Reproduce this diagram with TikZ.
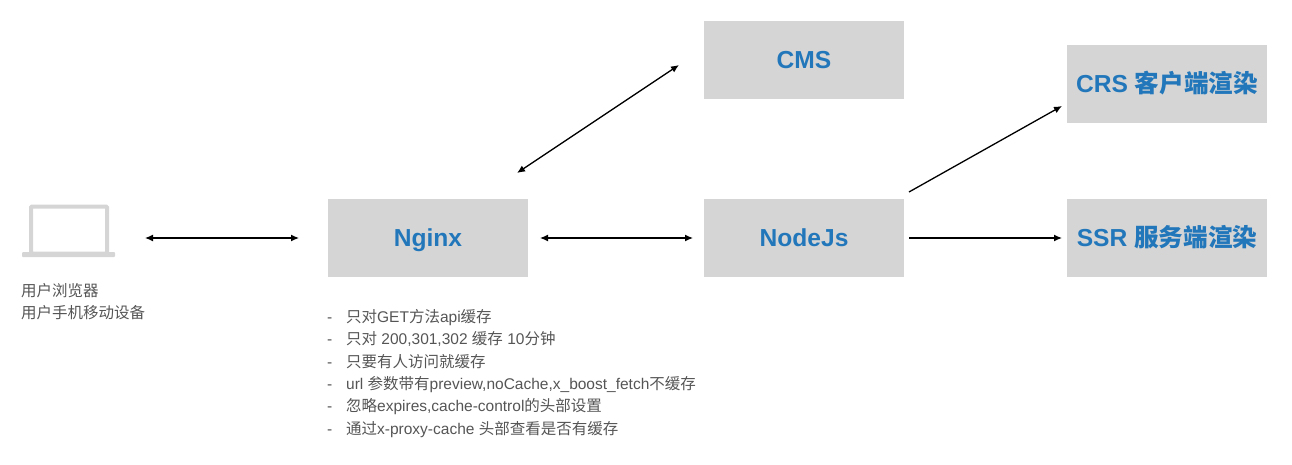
\documentclass[tikz,border=0pt]{standalone}
\usepackage{fontspec}
\usetikzlibrary{arrows.meta}
\setmainfont{Liberation Sans}
\newfontfamily\cjk{Noto Sans CJK SC}
\newcommand{\zh}[1]{{\cjk #1}}
\definecolor{boxgray}{HTML}{D5D5D5}
\definecolor{titleblue}{HTML}{2277BB}
\definecolor{notegray}{HTML}{555555}
\begin{document}
\begin{tikzpicture}[x=1pt,y=-1pt]
\tikzset{ >={Latex[length=8pt,width=7pt]}, inner sep=0pt, outer sep=0pt,
  server/.style={fill=boxgray, minimum width=200pt, minimum height=78pt,
    text=titleblue, text height=17pt, text depth=-1pt,
    font=\fontsize{24.6}{30}\selectfont\bfseries},
  link/.style={<->, line width=1.3pt},
  feed/.style={->, line width=1.3pt},
  note/.style={text=notegray, align=left, anchor=north west,
    font=\fontsize{15.5}{22.3}\selectfont},
}
\useasboundingbox (0,0) rectangle (1292,465);

\node [server] (CMS)    at (804,60)   {CMS};
\node [server] (Nginx)  at (428,238)  {Nginx};
\node [server] (NodeJs) at (804,238)  {NodeJs};
\node [server] (CRS)    at (1167,84)  {CRS \zh{客户端渲染}};
\node [server] (SSR)    at (1167,238) {SSR \zh{服务端渲染}};

% laptop icon
\node [draw=boxgray, line width=4pt, rounded corners=1pt, minimum width=76pt, minimum height=47pt] (Screen) at (69,230) {};
\node [fill=boxgray, rounded corners=1pt, minimum width=93pt, minimum height=5pt] (Base) at (68.5,254.5) {};

\coordinate (ClientEnd) at (145,238);
\coordinate (NginxTop)  at (517,173);
\coordinate (CmsEnd)    at (679,65);
\coordinate (NodeTop)   at (909,192);
\coordinate (CrsEnd)    at (1062,106);

\draw [link] (ClientEnd) -- ([xshift=-29pt]Nginx.west);
\draw [link] ([xshift=12pt]Nginx.east) -- ([xshift=-11pt]NodeJs.west);
\draw [link] (NginxTop) -- (CmsEnd);
\draw [feed] ([xshift=5pt]NodeJs.east) -- ([xshift=-5pt]SSR.west);
\draw [feed] (NodeTop) -- (CrsEnd);

\node [note] (ClientText) at (21,283.5) {\zh{用户浏览器}\\\zh{用户手机移动设备}};

\node [note] (NginxText) at (327,309.5) {%
-\hspace{14pt}\zh{只对}GET\zh{方法}api\zh{缓存}\\
-\hspace{14pt}\zh{只对} 200,301,302 \zh{缓存} 10\zh{分钟}\\
-\hspace{14pt}\zh{只要有人访问就缓存}\\
-\hspace{14pt}url \zh{参数带有}preview,noCache,x\_boost\_fetch\zh{不缓存}\\
-\hspace{14pt}\zh{忽略}expires,cache-control\zh{的头部设置}\\
-\hspace{14pt}\zh{通过}x-proxy-cache \zh{头部查看是否有缓存}};

\end{tikzpicture}
\end{document}
